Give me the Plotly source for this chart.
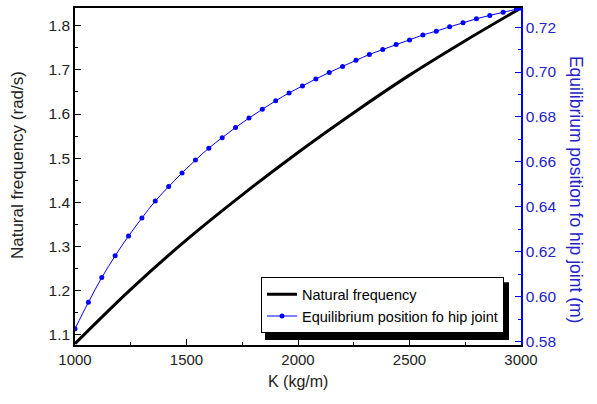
import plotly.graph_objects as go

# ---- data ----
k_freq = [1000, 1250, 1500, 1750, 2000, 2250, 2500, 2750, 3000]
natural_frequency = [1.080, 1.203, 1.315, 1.417, 1.513, 1.603, 1.688, 1.766, 1.840]

k_eq = [1000, 1060, 1120, 1180, 1240, 1300, 1360, 1420, 1480, 1540, 1600, 1660,
        1720, 1780, 1840, 1900, 1960, 2020, 2080, 2140, 2200, 2260, 2320, 2380,
        2440, 2500, 2560, 2620, 2680, 2740, 2800, 2860, 2920, 2980, 3000]
equilibrium_position = [0.5857, 0.5975, 0.6085, 0.6182, 0.6270, 0.6350, 0.6426, 0.6490,
                        0.6551, 0.6608, 0.6661, 0.6708, 0.6753, 0.6795, 0.6834, 0.6872,
                        0.6907, 0.6938, 0.6969, 0.6998, 0.7025, 0.7052, 0.7078, 0.7100,
                        0.7122, 0.7143, 0.7165, 0.7182, 0.7201, 0.7219, 0.7237, 0.7252,
                        0.7266, 0.7280, 0.7285]

x_title = "K (kg/m)"
y1_title = "Natural frequency (rad/s)"
y2_title = "Equilibrium position fo hip joint (m)"
name1 = "Natural frequency"
name2 = "Equilibrium position fo hip joint"

BLUE = "#0000ff"
BLUE_TXT = "#2323c8"
FONT = "Liberation Sans, Arial, sans-serif"

W, H = 597, 404
L, R, T, B = 75, 76, 6, 59
pw, ph = W - L - R, H - T - B


def px_x(x):
    return (x - L) / pw


def px_y(y):
    return (H - B - y) / ph


fig = go.Figure()
fig.add_trace(go.Scatter(x=k_freq, y=natural_frequency, name=name1, mode="lines",
                         line=dict(color="black", width=3, shape="spline"),
                         yaxis="y"))
fig.add_trace(go.Scatter(x=k_eq, y=equilibrium_position, name=name2, mode="lines+markers",
                         line=dict(color=BLUE, width=1, shape="spline"),
                         marker=dict(color=BLUE, size=5),
                         yaxis="y2"))

# legend shadow
fig.add_shape(type="rect", xref="paper", yref="paper",
              x0=px_x(265), x1=px_x(509), y0=px_y(340), y1=px_y(282),
              fillcolor="black", line=dict(width=0), layer="above")

fig.update_layout(
    width=W, height=H,
    margin=dict(l=L, r=R, t=T, b=B),
    paper_bgcolor="white", plot_bgcolor="white",
    font=dict(family=FONT, size=15, color="black"),
    showlegend=True,
    legend=dict(x=px_x(261), y=px_y(305), xanchor="left", yanchor="middle",
                bgcolor="white", bordercolor="black", borderwidth=1,
                font=dict(family=FONT, size=14.5, color="black"),
                tracegroupgap=0, itemwidth=30),
    xaxis=dict(range=[1000, 3000], dtick=500, tick0=1000,
               showgrid=False, zeroline=False,
               showline=True, linecolor="black", linewidth=1.5, mirror=True,
               ticks="inside", ticklen=6, tickwidth=1, tickcolor="black",
               minor=dict(dtick=250, tick0=1000, ticks="inside", ticklen=3, tickcolor="black"),
               tickfont=dict(family=FONT, size=15, color="#222")),
    yaxis=dict(range=[1.077, 1.84], dtick=0.1, tick0=1.1, tickformat=".1f",
               showgrid=False, zeroline=False,
               showline=True, linecolor="black", linewidth=1.5,
               ticks="inside", ticklen=6, tickwidth=1, tickcolor="black",
               minor=dict(dtick=0.05, tick0=1.1, ticks="inside", ticklen=3, tickcolor="black"),
               tickfont=dict(family=FONT, size=15.5, color="#222")),
    yaxis2=dict(range=[0.5785, 0.7285], dtick=0.02, tick0=0.58, tickformat=".2f",
                overlaying="y", side="right", anchor="x",
                showgrid=False, zeroline=False,
                showline=True, linecolor=BLUE, linewidth=1.5,
                ticks="inside", ticklen=6, tickwidth=1, tickcolor=BLUE,
                minor=dict(dtick=0.01, tick0=0.58, ticks="inside", ticklen=3, tickcolor=BLUE),
                tickfont=dict(family=FONT, size=15.5, color=BLUE_TXT)),
    annotations=[
        dict(text=x_title, xref="paper", yref="paper", x=px_x(298), y=px_y(382),
             showarrow=False, xanchor="center", yanchor="middle",
             font=dict(family=FONT, size=16, color="#222")),
        dict(text=y1_title, xref="paper", yref="paper", x=px_x(17), y=px_y(164),
             showarrow=False, textangle=-90, xanchor="center", yanchor="middle",
             font=dict(family=FONT, size=17, color="#222")),
        dict(text=y2_title, xref="paper", yref="paper", x=px_x(576), y=px_y(188),
             showarrow=False, textangle=90, xanchor="center", yanchor="middle",
             font=dict(family=FONT, size=17.5, color=BLUE_TXT)),
    ],
)

fig.write_html("out.html", config={"displayModeBar": False},
               post_script="document.body.style.margin='0';")
